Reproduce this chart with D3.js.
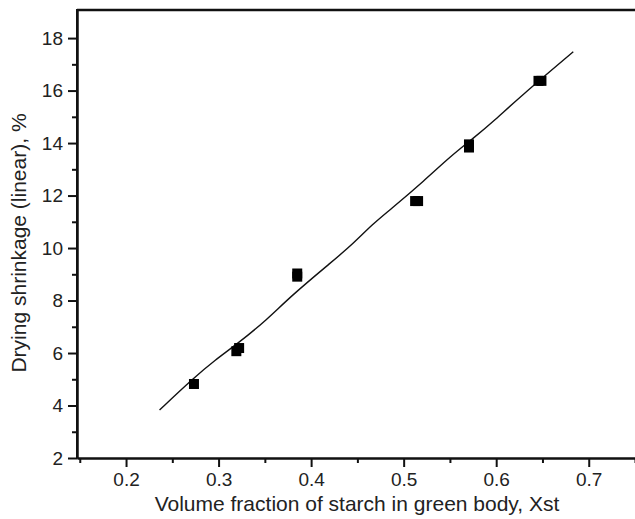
<!DOCTYPE html>
<html>
<head>
<meta charset="utf-8">
<script src="https://cdn.jsdelivr.net/npm/d3@7"></script>
<style>
  body { margin: 0; background: #fff; }
  text { font-family: "Liberation Sans", Arial, sans-serif; fill: #222; }
</style>
</head>
<body>
<script>
// measured points (volume fraction of starch, drying shrinkage %), some overlap
const pointX = [0.2734, 0.3192, 0.3222, 0.385, 0.385, 0.5124, 0.5156, 0.5706, 0.5706, 0.6457, 0.6489];
const pointY = [4.82, 6.07, 6.19, 8.91, 9.03, 11.79, 11.79, 13.83, 13.95, 16.37, 16.37];

// fitted curve
const fitX = [0.2362, 0.2727, 0.2961, 0.3196, 0.352, 0.3772, 0.4204, 0.4420, 0.4672, 0.4852, 0.523, 0.5501, 0.5752, 0.5987, 0.6257, 0.6833];
const fitY = [3.83, 5.04, 5.73, 6.33, 7.26, 8.14, 9.42, 10.05, 10.94, 11.45, 12.59, 13.48, 14.18, 14.88, 15.76, 17.48];

const xTicks = [0.2, 0.3, 0.4, 0.5, 0.6, 0.7];
const xMinor = [0.15, 0.25, 0.35, 0.45, 0.55, 0.65, 0.75];
const yTicks = [2, 4, 6, 8, 10, 12, 14, 16, 18];
const yMinor = [3, 5, 7, 9, 11, 13, 15, 17];

const xTitle = 'Volume fraction of starch in green body, Xst';
const yTitle = 'Drying shrinkage (linear), %';

const width = 635, height = 519;
const margin = { left: 77, right: 0, top: 10, bottom: 61 };

const svg = d3.select('body')
  .append('svg')
  .attr('width', width)
  .attr('height', height);

const x = d3.scaleLinear()
  .domain([0.147, 0.75])
  .range([margin.left, width - margin.right]);

const y = d3.scaleLinear()
  .domain([2, 19.07])
  .range([height - margin.bottom, margin.top]);

// bottom axis
const xAxis = svg.append('g')
  .attr('transform', `translate(0,${y(2)})`)
  .call(d3.axisBottom(x).tickValues(xTicks).tickFormat(d3.format('.1f')).tickSize(9).tickSizeOuter(0).tickPadding(6));
xAxis.append('g')
  .call(d3.axisBottom(x).tickValues(xMinor).tickFormat('').tickSize(5).tickSizeOuter(0));

// left axis
const yAxis = svg.append('g')
  .attr('transform', `translate(${margin.left},0)`)
  .call(d3.axisLeft(y).tickValues(yTicks).tickFormat(d3.format('d')).tickSize(9).tickSizeOuter(0).tickPadding(5));
yAxis.append('g')
  .call(d3.axisLeft(y).tickValues(yMinor).tickFormat('').tickSize(5).tickSizeOuter(0));

svg.selectAll('.domain, .tick line')
  .attr('stroke', '#111')
  .attr('stroke-width', 2);

svg.selectAll('.tick text')
  .attr('font-size', '19px')
  .attr('fill', '#222');

// top frame line and full left spine
svg.append('line')
  .attr('x1', margin.left)
  .attr('x2', width)
  .attr('y1', y.range()[1])
  .attr('y2', y.range()[1])
  .attr('stroke', '#111')
  .attr('stroke-width', 2.5);
svg.append('line')
  .attr('x1', margin.left)
  .attr('x2', margin.left)
  .attr('y1', y.range()[1] - 1)
  .attr('y2', y.range()[0])
  .attr('stroke', '#111')
  .attr('stroke-width', 2);

// fitted curve
const line = d3.line()
  .curve(d3.curveBasis)
  .x(i => x(fitX[i]))
  .y(i => y(fitY[i]));

svg.append('path')
  .attr('d', line(d3.range(fitX.length)))
  .attr('fill', 'none')
  .attr('stroke', '#111')
  .attr('stroke-width', 1.4);

// square markers
const size = 10;
svg.append('g')
  .selectAll('rect')
  .data(d3.range(pointX.length))
  .enter()
  .append('rect')
  .attr('x', i => x(pointX[i]) - size / 2)
  .attr('y', i => y(pointY[i]) - size / 2)
  .attr('width', size)
  .attr('height', size)
  .attr('fill', '#000');

// axis titles
svg.append('text')
  .attr('x', 357)
  .attr('y', 511)
  .attr('text-anchor', 'middle')
  .attr('font-size', '21px')
  .text(xTitle);

svg.append('text')
  .attr('transform', 'translate(26,243) rotate(-90)')
  .attr('text-anchor', 'middle')
  .attr('font-size', '21px')
  .text(yTitle);
</script>
</body>
</html>
